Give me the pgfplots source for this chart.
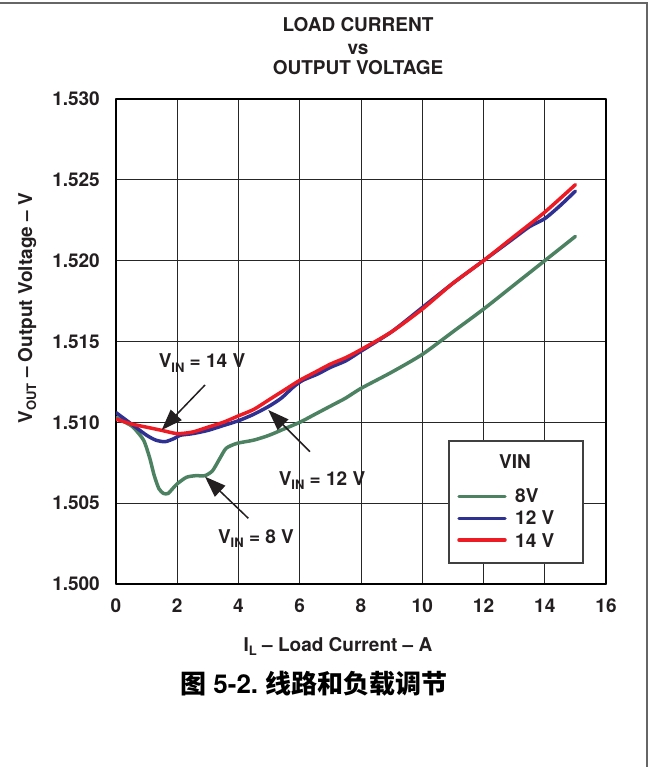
\documentclass[border=0pt]{standalone}
\usepackage{pgfplots}
\pgfplotsset{compat=1.18}
\usepackage{fontspec}
\setmainfont{TeX Gyre Heros}
\newfontfamily\cjk{Noto Sans CJK SC}
\usetikzlibrary{arrows.meta}
\definecolor{cgreen}{RGB}{76,130,98}
\definecolor{cblue}{RGB}{46,49,146}
\definecolor{cred}{RGB}{237,28,36}
\definecolor{ctext}{RGB}{35,31,32}
\newcommand\sub[1]{\raisebox{-0.22em}{\fontsize{13bp}{13bp}\selectfont #1}}
\newcommand\lab{\fontsize{19bp}{21bp}\selectfont\bfseries}

\begin{document}
\begin{tikzpicture}
\path[use as bounding box] (0bp,0bp) rectangle (651bp,767bp);
\draw[black!60, line width=1.3bp] (0bp,764bp) -- (647bp,764bp) -- (647bp,0bp);
\begin{axis}[
  at={(116bp,183bp)}, anchor=south west,
  scale only axis, width=490bp, height=485bp,
  xmin=0, xmax=16, ymin=1.500, ymax=1.530,
  xtick={0,2,4,6,8,10,12,14,16},
  ytick={1.500,1.505,1.510,1.515,1.520,1.525,1.530},
  axis line style={line width=1.2bp, black},
  grid=major, major grid style={line width=0.9bp, black!85},
  tick style={draw=none},
  /pgf/number format/assume math mode=true,
  ticklabel style={font=\lab, text=ctext, inner sep=0pt},
  xticklabel style={yshift=-15bp},
  yticklabel style={xshift=-16bp, /pgf/number format/.cd, fixed, fixed zerofill, precision=3},
  scaled y ticks=false,
  line join=round, line cap=round,
]
\addplot[cgreen, line width=3.5bp, smooth, tension=0.4] coordinates {
(0,1.5103) (0.3,1.5100) (0.56,1.5097) (0.9,1.5089) (1.1,1.5078) (1.25,1.5067)
(1.4,1.5059) (1.55,1.5056) (1.7,1.5056) (1.85,1.5059) (2.0,1.5062) (2.3,1.5066)
(2.6,1.5067) (2.9,1.5067) (3.15,1.5070) (3.4,1.5078) (3.6,1.5084) (3.95,1.5087)
(4.5,1.5089) (5.0,1.5092) (5.5,1.5096) (6.0,1.5100) (6.5,1.5105) (7.1,1.5111)
(7.5,1.5115) (8.0,1.5121) (9.0,1.5131) (10.0,1.5142) (11.0,1.5156) (12.0,1.5170)
(13.0,1.5185) (14.0,1.5200) (15.0,1.5215)
};
\addplot[cblue, line width=3.5bp, smooth, tension=0.4] coordinates {
(0,1.5106) (0.5,1.5099) (1.0,1.5092) (1.3,1.5089) (1.6,1.5088) (1.9,1.5090)
(2.1,1.5092) (2.5,1.5093) (3.0,1.5095) (3.5,1.5098) (4.0,1.5101) (4.5,1.5105)
(5.0,1.5110) (5.4,1.5115) (5.8,1.5122) (6.1,1.5126) (6.6,1.5130) (7.0,1.5134)
(7.5,1.5138) (8.0,1.5144) (9.0,1.5156) (10.0,1.5171) (11.0,1.5186) (12.0,1.5200)
(13.0,1.5214) (13.5,1.5221) (14.0,1.5226) (14.5,1.5234) (15.0,1.5243)
};
\addplot[cred, line width=3.5bp, smooth, tension=0.4] coordinates {
(0,1.5102) (0.5,1.5099) (1.0,1.5097) (1.5,1.5095) (2.0,1.5093) (2.5,1.5094)
(3.0,1.5097) (3.5,1.5100) (4.0,1.5104) (4.5,1.5108) (5.0,1.5114) (5.5,1.5120)
(6.0,1.5126) (6.5,1.5131) (7.0,1.5136) (7.5,1.5140) (8.0,1.5145) (9.0,1.5156)
(10.0,1.5170) (11.0,1.5186) (12.0,1.5200) (13.0,1.5215) (14.0,1.5230) (15.0,1.5247)
};
\end{axis}
\begin{scope}[x=1bp, y=1bp, every node/.style={font=\lab, text=ctext, inner sep=0pt}]
% title
\node[anchor=base] at (358,735) {LOAD CURRENT};
\node[anchor=base] at (358,712) {vs};
\node[anchor=base] at (358,692) {OUTPUT VOLTAGE};
% axis labels
\node[anchor=base] at (338,116) {I\sub{L} – Load Current – A};
\node[rotate=90, anchor=base] at (32,459) {V\sub{OUT} – Output Voltage – V};
% annotations
\node[anchor=base] at (202,399) {V\sub{IN} = 14 V};
\node[anchor=base] at (322,282) {V\sub{IN} = 12 V};
\node[anchor=base] at (256,224) {V\sub{IN} = 8 V};
\draw[ctext, line width=1.5bp, -{Triangle[length=21bp, width=15bp]}] (205,382) -- (161.7,337);
\draw[ctext, line width=1.5bp, -{Triangle[length=21bp, width=15bp]}] (310,315.3) -- (268.3,357);
\draw[ctext, line width=1.5bp, -{Triangle[length=21bp, width=15bp]}] (248.3,248.7) -- (205,290.3);
% legend
\draw[black!75, line width=1.2bp, fill=white] (449,204) rectangle (583,326);
\node[anchor=base] at (515,299) {VIN};
\draw[cgreen, line width=3.5bp, line cap=round] (459,270.3) -- (505,270.3);
\draw[cblue, line width=3.5bp, line cap=round] (459,248.7) -- (505,248.7);
\draw[cred, line width=3.5bp, line cap=round] (459,227) -- (505,227);
\node[anchor=base west] at (515,265) {8V};
\node[anchor=base west] at (515,243) {12 V};
\node[anchor=base west] at (515,220) {14 V};
% caption
\node[anchor=base west, font=\fontsize{26bp}{28bp}\selectfont\bfseries, text=black] at (180,74) {{\cjk 图}\ 5-2.\ {\cjk 线路和负载调节}};
\end{scope}
\end{tikzpicture}
\end{document}
